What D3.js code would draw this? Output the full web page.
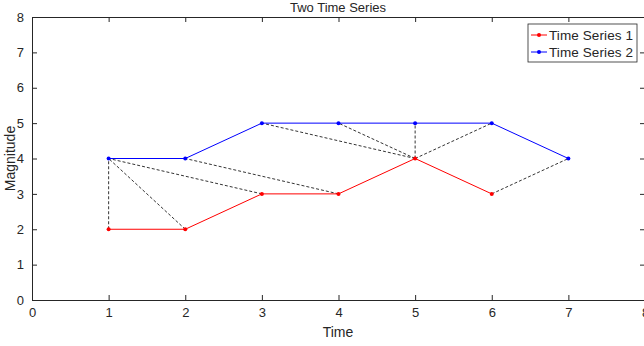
<!DOCTYPE html>
<html>
<head>
<meta charset="utf-8">
<script src="https://cdn.jsdelivr.net/npm/d3@7"></script>
<style>
body { margin: 0; background: #fff; }
text { font-family: Arial, "Liberation Sans", sans-serif; fill: #262626; }
</style>
</head>
<body>
<div id="chart"></div>
<script>
// data
var xs1 = [1, 2, 3, 4, 5, 6];
var series1 = [2, 2, 3, 3, 4, 3];
var xs2 = [1, 2, 3, 4, 5, 6, 7];
var series2 = [4, 4, 5, 5, 5, 5, 4];
// matched pairs: [index in series1, index in series2]
var links = [[0, 0], [1, 0], [2, 0], [3, 1], [4, 2], [4, 3], [4, 4], [4, 5], [5, 6]];
var xTicks = [0, 1, 2, 3, 4, 5, 6, 7, 8];
var yTicks = [0, 1, 2, 3, 4, 5, 6, 7, 8];
var names = ["Time Series 1", "Time Series 2"];
var colors = ["#ff0000", "#0000ff"];

var W = 644, H = 346;
var margin = {top: 17, right: -1, bottom: 46, left: 32},
    width = W - margin.left - margin.right,
    height = H - margin.top - margin.bottom;

var svg = d3.select("#chart").append("svg")
    .attr("width", W).attr("height", H);
var g = svg.append("g")
    .attr("transform", "translate(" + margin.left + "," + margin.top + ")");

var x = d3.scaleLinear().domain([0, 8]).range([0, width]);
var y = d3.scaleLinear().domain([0, 8]).range([height, 0]);

// box + ticks (matlab style, ticks inward on all sides)
var tl = 5;
g.append("g").attr("transform", "translate(0," + height + ")")
    .call(d3.axisBottom(x).tickValues(xTicks).tickSize(-tl).tickPadding(8).tickFormat(d3.format("d")));
g.append("g")
    .call(d3.axisTop(x).tickValues(xTicks).tickSize(-tl).tickFormat(""));
g.append("g")
    .call(d3.axisLeft(y).tickValues(yTicks).tickSize(-tl).tickPadding(8).tickFormat(d3.format("d")));
g.append("g").attr("transform", "translate(" + width + ",0)")
    .call(d3.axisRight(y).tickValues(yTicks).tickSize(-tl).tickFormat(""));
g.selectAll(".domain").attr("stroke", "#262626");
g.selectAll(".tick line").attr("stroke", "#262626");
g.selectAll(".tick text").attr("font-size", 13).style("font-family", "Arial, 'Liberation Sans', sans-serif").attr("fill", "#262626");

// dashed alignment lines
g.selectAll(".link").data(links).enter().append("line")
    .attr("x1", function(d) { return x(xs1[d[0]]); })
    .attr("y1", function(d) { return y(series1[d[0]]); })
    .attr("x2", function(d) { return x(xs2[d[1]]); })
    .attr("y2", function(d) { return y(series2[d[1]]); })
    .attr("stroke", "#000").attr("stroke-width", 0.8)
    .attr("stroke-dasharray", "3,2");

var line = d3.line()
    .x(function(d) { return x(d[0]); })
    .y(function(d) { return y(d[1]); });

var sets = [d3.zip(xs1, series1), d3.zip(xs2, series2)];
sets.forEach(function(s, i) {
  g.append("path").datum(s)
    .attr("fill", "none").attr("stroke", colors[i]).attr("stroke-width", 1)
    .attr("d", line);
  g.selectAll(".dot" + i).data(s).enter().append("circle")
    .attr("cx", function(d) { return x(d[0]); })
    .attr("cy", function(d) { return y(d[1]); })
    .attr("r", 2).attr("fill", colors[i]);
});

// labels
svg.append("text").attr("x", margin.left + 306).attr("y", 12)
    .attr("text-anchor", "middle").attr("font-size", 13).text("Two Time Series");
svg.append("text").attr("x", margin.left + 306).attr("y", 337)
    .attr("text-anchor", "middle").attr("font-size", 14).text("Time");
svg.append("text").attr("transform", "translate(15," + (margin.top + height / 2) + ") rotate(-90)")
    .attr("text-anchor", "middle").attr("font-size", 14).text("Magnitude");

// legend
var lg = svg.append("g").attr("transform", "translate(528,24)");
lg.append("rect").attr("width", 109).attr("height", 38)
    .attr("fill", "#fff").attr("stroke", "#262626").attr("stroke-width", 0.8);
names.forEach(function(n, i) {
  var yy = 11 + i * 17;
  lg.append("line").attr("x1", 3).attr("x2", 19).attr("y1", yy).attr("y2", yy)
    .attr("stroke", colors[i]);
  lg.append("circle").attr("cx", 11).attr("cy", yy).attr("r", 2).attr("fill", colors[i]);
  lg.append("text").attr("x", 21).attr("y", yy + 5).attr("font-size", 13.5)
    .attr("textLength", 84).text(n);
});
</script>
</body>
</html>
